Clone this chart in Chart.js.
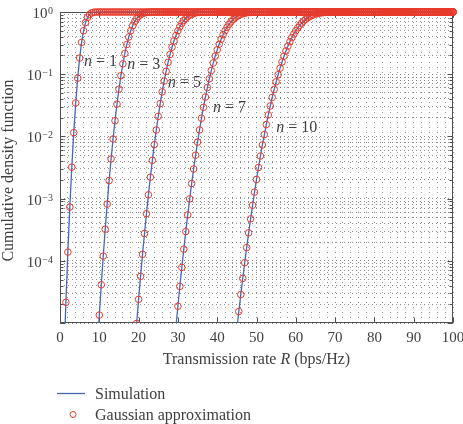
<!DOCTYPE html>
<html>
<head>
<meta charset="utf-8">
<script src="https://cdn.jsdelivr.net/npm/chart.js@4.4.1/dist/chart.umd.min.js"></script>
<style>
  html, body { margin: 0; padding: 0; background: #fff; }
  canvas { display: block; }
</style>
</head>
<body>
<canvas id="cdf" width="463" height="424"></canvas>
<script>
// transmission rate grid R (bps/Hz), shared by all curves
const rate = [
  0, 0.5, 1, 1.5, 2, 2.5, 3, 3.5, 4, 4.5,
  5, 5.5, 6, 6.5, 7, 7.5, 8, 8.5, 9, 9.5,
  10, 10.5, 11, 11.5, 12, 12.5, 13, 13.5, 14, 14.5,
  15, 15.5, 16, 16.5, 17, 17.5, 18, 18.5, 19, 19.5,
  20, 20.5, 21, 21.5, 22, 22.5, 23, 23.5, 24, 24.5,
  25, 25.5, 26, 26.5, 27, 27.5, 28, 28.5, 29, 29.5,
  30, 30.5, 31, 31.5, 32, 32.5, 33, 33.5, 34, 34.5,
  35, 35.5, 36, 36.5, 37, 37.5, 38, 38.5, 39, 39.5,
  40, 40.5, 41, 41.5, 42, 42.5, 43, 43.5, 44, 44.5,
  45, 45.5, 46, 46.5, 47, 47.5, 48, 48.5, 49, 49.5,
  50, 50.5, 51, 51.5, 52, 52.5, 53, 53.5, 54, 54.5,
  55, 55.5, 56, 56.5, 57, 57.5, 58, 58.5, 59, 59.5,
  60, 60.5, 61, 61.5, 62, 62.5, 63, 63.5, 64, 64.5,
  65, 65.5, 66, 66.5, 67, 67.5, 68, 68.5, 69, 69.5,
  70, 70.5, 71, 71.5, 72, 72.5, 73, 73.5, 74, 74.5,
  75, 75.5, 76, 76.5, 77, 77.5, 78, 78.5, 79, 79.5,
  80, 80.5, 81, 81.5, 82, 82.5, 83, 83.5, 84, 84.5,
  85, 85.5, 86, 86.5, 87, 87.5, 88, 88.5, 89, 89.5,
  90, 90.5, 91, 91.5, 92, 92.5, 93, 93.5, 94, 94.5,
  95, 95.5, 96, 96.5, 97, 97.5, 98, 98.5, 99, 99.5,
  100
];

// cumulative density function, one value per rate above (null = off the plot)
const cdfN1 = [
  null, null, 2.74e-6, 2.15e-5, 1.38e-4, 7.31e-4, 3.20e-3, 0.0115, 0.0345, 0.0862,
  0.1817, 0.3249, 0.5, 0.6751, 0.8183, 0.9138, 0.9655, 0.9885, 0.9968, 0.99927,
  1, 1, 1, 1, 1, 1, 1, 1, 1, 1,
  1, 1, 1, 1, 1, 1, 1, 1, 1, 1,
  1, 1, 1, 1, 1, 1, 1, 1, 1, 1,
  1, 1, 1, 1, 1, 1, 1, 1, 1, 1,
  1, 1, 1, 1, 1, 1, 1, 1, 1, 1,
  1, 1, 1, 1, 1, 1, 1, 1, 1, 1,
  1, 1, 1, 1, 1, 1, 1, 1, 1, 1,
  1, 1, 1, 1, 1, 1, 1, 1, 1, 1,
  1, 1, 1, 1, 1, 1, 1, 1, 1, 1,
  1, 1, 1, 1, 1, 1, 1, 1, 1, 1,
  1, 1, 1, 1, 1, 1, 1, 1, 1, 1,
  1, 1, 1, 1, 1, 1, 1, 1, 1, 1,
  1, 1, 1, 1, 1, 1, 1, 1, 1, 1,
  1, 1, 1, 1, 1, 1, 1, 1, 1, 1,
  1, 1, 1, 1, 1, 1, 1, 1, 1, 1,
  1, 1, 1, 1, 1, 1, 1, 1, 1, 1,
  1, 1, 1, 1, 1, 1, 1, 1, 1, 1,
  1, 1, 1, 1, 1, 1, 1, 1, 1, 1,
  1
];

const cdfN3 = [
  null, null, null, null, null, null, null, null, null, null,
  null, null, null, null, null, null, null, null, 1.15e-6, 4.06e-6,
  1.34e-5, 4.12e-5, 1.19e-4, 3.22e-4, 8.16e-4, 1.95e-3, 4.33e-3, 9.08e-3, 0.01786, 0.0330,
  0.0576, 0.0947, 0.1468, 0.2157, 0.2999, 0.3968, 0.5, 0.6032, 0.7001, 0.7843,
  0.8532, 0.9053, 0.9424, 0.9670, 0.98214, 0.99092, 0.99567, 0.99805, 0.99918, 0.99968,
  1, 1, 1, 1, 1, 1, 1, 1, 1, 1,
  1, 1, 1, 1, 1, 1, 1, 1, 1, 1,
  1, 1, 1, 1, 1, 1, 1, 1, 1, 1,
  1, 1, 1, 1, 1, 1, 1, 1, 1, 1,
  1, 1, 1, 1, 1, 1, 1, 1, 1, 1,
  1, 1, 1, 1, 1, 1, 1, 1, 1, 1,
  1, 1, 1, 1, 1, 1, 1, 1, 1, 1,
  1, 1, 1, 1, 1, 1, 1, 1, 1, 1,
  1, 1, 1, 1, 1, 1, 1, 1, 1, 1,
  1, 1, 1, 1, 1, 1, 1, 1, 1, 1,
  1, 1, 1, 1, 1, 1, 1, 1, 1, 1,
  1, 1, 1, 1, 1, 1, 1, 1, 1, 1,
  1, 1, 1, 1, 1, 1, 1, 1, 1, 1,
  1, 1, 1, 1, 1, 1, 1, 1, 1, 1,
  1, 1, 1, 1, 1, 1, 1, 1, 1, 1,
  1
];

const cdfN5 = [
  null, null, null, null, null, null, null, null, null, null,
  null, null, null, null, null, null, null, null, null, null,
  null, null, null, null, null, null, null, null, null, null,
  null, null, null, null, null, null, null, 1.47e-6, 3.87e-6, 9.84e-6,
  2.40e-5, 5.62e-5, 1.27e-4, 2.75e-4, 5.72e-4, 1.15e-3, 2.21e-3, 4.12e-3, 7.36e-3, 0.01266,
  0.0210, 0.0337, 0.0520, 0.0774, 0.1112, 0.1550, 0.2080, 0.2709, 0.3421, 0.4194,
  0.5, 0.5806, 0.6579, 0.7291, 0.7920, 0.8450, 0.8888, 0.9226, 0.9480, 0.9663,
  0.9790, 0.98734, 0.99264, 0.99588, 0.99779, 0.99885, 0.99943, 1, 1, 1,
  1, 1, 1, 1, 1, 1, 1, 1, 1, 1,
  1, 1, 1, 1, 1, 1, 1, 1, 1, 1,
  1, 1, 1, 1, 1, 1, 1, 1, 1, 1,
  1, 1, 1, 1, 1, 1, 1, 1, 1, 1,
  1, 1, 1, 1, 1, 1, 1, 1, 1, 1,
  1, 1, 1, 1, 1, 1, 1, 1, 1, 1,
  1, 1, 1, 1, 1, 1, 1, 1, 1, 1,
  1, 1, 1, 1, 1, 1, 1, 1, 1, 1,
  1, 1, 1, 1, 1, 1, 1, 1, 1, 1,
  1, 1, 1, 1, 1, 1, 1, 1, 1, 1,
  1, 1, 1, 1, 1, 1, 1, 1, 1, 1,
  1, 1, 1, 1, 1, 1, 1, 1, 1, 1,
  1
];

const cdfN7 = [
  null, null, null, null, null, null, null, null, null, null,
  null, null, null, null, null, null, null, null, null, null,
  null, null, null, null, null, null, null, null, null, null,
  null, null, null, null, null, null, null, null, null, null,
  null, null, null, null, null, null, null, null, null, null,
  null, null, null, null, null, null, null, 1.75e-6, 3.96e-6, 8.70e-6,
  1.86e-5, 3.87e-5, 7.83e-5, 1.54e-4, 2.95e-4, 5.46e-4, 9.90e-4, 1.75e-3, 2.99e-3, 4.98e-3,
  8.09e-3, 0.01273, 0.01958, 0.0293, 0.0429, 0.0610, 0.0845, 0.1145, 0.1516, 0.1955,
  0.2462, 0.3034, 0.3656, 0.4318, 0.5, 0.5682, 0.6344, 0.6966, 0.7538, 0.8045,
  0.8484, 0.8855, 0.9155, 0.9390, 0.9571, 0.9707, 0.98042, 0.98727, 0.99191, 0.99502,
  0.99701, 0.99825, 0.99901, 1, 1, 1, 1, 1, 1, 1,
  1, 1, 1, 1, 1, 1, 1, 1, 1, 1,
  1, 1, 1, 1, 1, 1, 1, 1, 1, 1,
  1, 1, 1, 1, 1, 1, 1, 1, 1, 1,
  1, 1, 1, 1, 1, 1, 1, 1, 1, 1,
  1, 1, 1, 1, 1, 1, 1, 1, 1, 1,
  1, 1, 1, 1, 1, 1, 1, 1, 1, 1,
  1, 1, 1, 1, 1, 1, 1, 1, 1, 1,
  1, 1, 1, 1, 1, 1, 1, 1, 1, 1,
  1, 1, 1, 1, 1, 1, 1, 1, 1, 1,
  1
];

const cdfN10 = [
  null, null, null, null, null, null, null, null, null, null,
  null, null, null, null, null, null, null, null, null, null,
  null, null, null, null, null, null, null, null, null, null,
  null, null, null, null, null, null, null, null, null, null,
  null, null, null, null, null, null, null, null, null, null,
  null, null, null, null, null, null, null, null, null, null,
  null, null, null, null, null, null, null, null, null, null,
  null, null, null, null, null, null, null, null, null, null,
  null, null, null, null, null, null, null, 1.05e-6, 2.11e-6, 4.19e-6,
  8.09e-6, 1.53e-5, 2.86e-5, 5.22e-5, 9.31e-5, 1.63e-4, 2.81e-4, 4.73e-4, 7.82e-4, 1.27e-3,
  2.03e-3, 3.16e-3, 4.84e-3, 7.28e-3, 0.01072, 0.01552, 0.02210, 0.0308, 0.0423, 0.0569,
  0.0753, 0.0981, 0.1251, 0.1573, 0.1947, 0.2361, 0.2827, 0.3334, 0.3871, 0.4428,
  0.5, 0.5572, 0.6129, 0.6666, 0.7173, 0.7639, 0.8053, 0.8419, 0.8749, 0.9019,
  0.9247, 0.9431, 0.9577, 0.9692, 0.97790, 0.98448, 0.98928, 0.99272, 0.99516, 0.99684,
  0.99797, 0.99873, 0.99922, 1, 1, 1, 1, 1, 1, 1,
  1, 1, 1, 1, 1, 1, 1, 1, 1, 1,
  1, 1, 1, 1, 1, 1, 1, 1, 1, 1,
  1, 1, 1, 1, 1, 1, 1, 1, 1, 1,
  1, 1, 1, 1, 1, 1, 1, 1, 1, 1,
  1, 1, 1, 1, 1, 1, 1, 1, 1, 1,
  1
];

const curveNames = ["1", "3", "5", "7", "10"];
const xTickLabels = [0, 10, 20, 30, 40, 50, 60, 70, 80, 90, 100];
const yDecades = [-5, -4, -3, -2, -1, 0];
const yTickLabels = [-4, -3, -2, -1, 0];

// where the "n = ..." notes sit, in data units (rate, cdf)
const noteRate = [6.1, 17.1, 27.5, 38.9, 55.0];
const noteCdf = [0.157, 0.14, 0.0719, 0.0284, 0.0136];

const simColor = "rgb(72, 104, 182)";
const gaussColor = "rgb(232, 58, 42)";
const textColor = "#404040";
const serif = '"Liberation Serif", "Times New Roman", serif';
const font = (size, style) => (style ? style + " " : "") + size + "px " + serif;

const toPoints = cdf =>
  rate.map((r, i) => ({ x: r, y: cdf[i] })).filter(p => p.y !== null);

const curves = [cdfN1, cdfN3, cdfN5, cdfN7, cdfN10];
const datasets = [];
curves.forEach((cdf, k) => {
  datasets.push({
    label: "Gaussian approximation n=" + curveNames[k],
    data: toPoints(cdf),
    showLine: false,
    pointStyle: "circle",
    pointRadius: 3.3,
    pointBorderWidth: 1,
    pointBorderColor: gaussColor,
    pointBackgroundColor: "rgba(0,0,0,0)",
    order: 0,
    clip: { left: 5, top: 5, right: 5, bottom: 0 },
  });
  datasets.push({
    label: "Simulation n=" + curveNames[k],
    data: toPoints(cdf),
    borderColor: simColor,
    borderWidth: 1.3,
    pointRadius: 0,
    order: 1,
    clip: { left: 0, top: 3, right: 3, bottom: 0 },
  });
});

// frame, ticks, labels and legend drawn on top of the chart
const decorations = {
  id: "decorations",
  beforeDatasetsDraw(chart) {
    const { ctx, chartArea: a, scales: { x, y } } = chart;
    const L = a.left + 0.5, R = a.right - 0.5, T = a.top + 0.5, B = a.bottom - 0.5;
    ctx.save();
    ctx.strokeStyle = "#505050";
    ctx.lineWidth = 1;
    ctx.strokeRect(L, T, R - L, B - T);
    ctx.beginPath();
    yDecades.forEach(d => {
      for (let m = 1; m <= 9; m++) {
        const v = m * Math.pow(10, d);
        if (v > 1) break;
        const py = Math.round(y.getPixelForValue(v)) + 0.5;
        const len = m === 1 ? 5 : 3;
        ctx.moveTo(L, py); ctx.lineTo(L + len, py);
        ctx.moveTo(R, py); ctx.lineTo(R - len, py);
      }
    });
    xTickLabels.forEach(v => {
      const px = Math.round(x.getPixelForValue(v)) + 0.5;
      ctx.moveTo(px, B); ctx.lineTo(px, B - 5);
      ctx.moveTo(px, T); ctx.lineTo(px, T + 5);
    });
    ctx.stroke();
    ctx.restore();
  },
  afterDraw(chart) {
    const { ctx, chartArea: a, scales: { x, y } } = chart;
    ctx.save();
    ctx.fillStyle = textColor;

    // y tick labels 10^k
    const right = a.left - 7;
    yTickLabels.forEach(d => {
      const py = y.getPixelForValue(Math.pow(10, d));
      const exp = d === 0 ? "0" : "\u2212" + (-d);
      ctx.font = font(10);
      const ew = ctx.measureText(exp).width;
      ctx.textAlign = "left";
      ctx.textBaseline = "alphabetic";
      ctx.fillText(exp, right - ew, py + 2);
      ctx.font = font(15);
      ctx.textAlign = "right";
      ctx.fillText("10", right - ew - 0.5, py + 6);
    });

    // y title
    ctx.save();
    ctx.translate(13, (a.top + a.bottom) / 2 + 3);
    ctx.rotate(-Math.PI / 2);
    ctx.font = font(16);
    ctx.textAlign = "center";
    ctx.textBaseline = "alphabetic";
    ctx.fillText("Cumulative density function", 0, 0);
    ctx.restore();

    // x title with italic R
    const parts = [["Transmission rate ", ""], ["R", "italic"], [" (bps/Hz)", ""]];
    let total = 0;
    parts.forEach(p => { ctx.font = font(16, p[1]); total += ctx.measureText(p[0]).width; });
    let cx = (a.left + a.right) / 2 - total / 2;
    ctx.textAlign = "left";
    ctx.textBaseline = "alphabetic";
    parts.forEach(p => {
      ctx.font = font(16, p[1]);
      ctx.fillText(p[0], cx, 364);
      cx += ctx.measureText(p[0]).width;
    });

    // n = ... notes
    ctx.textBaseline = "middle";
    curveNames.forEach((n, k) => {
      let px = x.getPixelForValue(noteRate[k]);
      const py = y.getPixelForValue(noteCdf[k]);
      ctx.font = font(16, "italic");
      ctx.fillText("n", px, py);
      px += ctx.measureText("n").width;
      ctx.font = font(16);
      ctx.fillText(" = " + n, px, py);
    });

    // legend
    ctx.strokeStyle = simColor;
    ctx.lineWidth = 1.3;
    ctx.beginPath();
    ctx.moveTo(57, 393.5);
    ctx.lineTo(85, 393.5);
    ctx.stroke();
    ctx.strokeStyle = gaussColor;
    ctx.lineWidth = 1;
    ctx.beginPath();
    ctx.arc(73, 414.5, 3, 0, Math.PI * 2);
    ctx.stroke();
    ctx.font = font(16);
    ctx.textBaseline = "alphabetic";
    ctx.fillText("Simulation", 95, 399);
    ctx.fillText("Gaussian approximation", 95, 419.5);
    ctx.restore();
  },
};

const gridColor = "rgba(70, 70, 70, 0.6)";

new Chart(document.getElementById("cdf"), {
  type: "line",
  data: { datasets },
  options: {
    responsive: false,
    animation: false,
    devicePixelRatio: 1,
    events: [],
    layout: { padding: { top: 12, right: 10, left: 0, bottom: 51 } },
    plugins: { legend: { display: false }, tooltip: { enabled: false } },
    scales: {
      x: {
        type: "linear",
        min: 0,
        max: 100,
        ticks: {
          stepSize: 2,
          autoSkip: false,
          maxRotation: 0,
          padding: 6,
          color: textColor,
          font: { family: serif, size: 15 },
          callback: v => (xTickLabels.includes(v) ? String(v) : ""),
        },
        grid: { color: gridColor, lineWidth: 1, drawTicks: false },
        border: { display: false, dash: [1, 4] },
        afterFit: s => { s.height = 50; s.paddingLeft = 0; s.paddingRight = 0; },
      },
      y: {
        type: "logarithmic",
        min: 1e-5,
        max: 1,
        afterBuildTicks: s => {
          const ticks = [];
          yDecades.forEach(d => {
            for (let m = 1; m <= 9; m++) {
              const v = m * Math.pow(10, d);
              if (v <= 1) ticks.push({ value: v, major: m === 1 });
            }
          });
          s.ticks = ticks;
        },
        ticks: { autoSkip: false, callback: () => "" },
        grid: { color: gridColor, lineWidth: 1, drawTicks: false },
        border: { display: false, dash: [1, 3] },
        afterFit: s => { s.width = 60; s.paddingTop = 0; s.paddingBottom = 0; },
      },
    },
  },
  plugins: [decorations],
});
</script>
</body>
</html>
